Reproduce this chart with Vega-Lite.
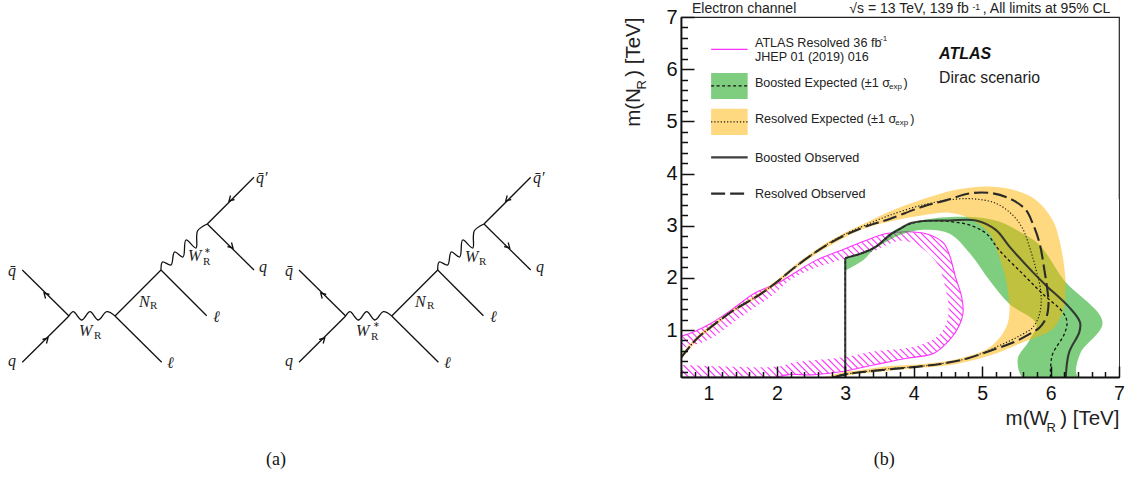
{
"$schema":"https://vega.github.io/schema/vega-lite/v6.json",
"padding":{"left":0,"top":1,"right":0,"bottom":0},
"background":"white",
"spacing":0,
"config":{"view":{"stroke":null},"text":{"font":"Liberation Sans","baseline":"middle","align":"left"}},
"hconcat":[
{"width":622,"height":463,
 "layer":[
 {"data":{"values":[
 {"g":"a1","x":22.3,"y":270},{"g":"a1","x":69,"y":316},
 {"g":"a2","x":22.3,"y":362.3},{"g":"a2","x":69,"y":316},
 {"g":"a3","x":115,"y":316},{"g":"a3","x":161,"y":270},
 {"g":"a4","x":115,"y":316},{"g":"a4","x":161.7,"y":362.3},
 {"g":"a5","x":161,"y":270},{"g":"a5","x":206.7,"y":315.7},
 {"g":"a6","x":207.3,"y":224},{"g":"a6","x":254,"y":177.3},
 {"g":"a7","x":207.3,"y":224},{"g":"a7","x":254,"y":270},
 {"g":"b1","x":299,"y":270},{"g":"b1","x":345.7,"y":316},
 {"g":"b2","x":299,"y":362.3},{"g":"b2","x":345.7,"y":316},
 {"g":"b3","x":391.7,"y":316},{"g":"b3","x":437.7,"y":270},
 {"g":"b4","x":391.7,"y":316},{"g":"b4","x":438.4,"y":362.3},
 {"g":"b5","x":437.7,"y":270},{"g":"b5","x":483.4,"y":315.7},
 {"g":"b6","x":484,"y":224},{"g":"b6","x":530.7,"y":177.3},
 {"g":"b7","x":484,"y":224},{"g":"b7","x":530.7,"y":270},
 {"g":"c1","x":49.5,"y":294.5},{"g":"c1","x":44,"y":293},{"g":"c1","x":45.5,"y":298.5},
 {"g":"c2","x":42.5,"y":339.5},{"g":"c2","x":48,"y":338},{"g":"c2","x":46.5,"y":343.5},
 {"g":"c3","x":234.5,"y":199.5},{"g":"c3","x":229,"y":201},{"g":"c3","x":230.5,"y":195.5},
 {"g":"c4","x":227.5,"y":246.5},{"g":"c4","x":233,"y":248},{"g":"c4","x":231.5,"y":242.5},
 {"g":"d1","x":326.2,"y":294.5},{"g":"d1","x":320.7,"y":293},{"g":"d1","x":322.2,"y":298.5},
 {"g":"d2","x":319.2,"y":339.5},{"g":"d2","x":324.7,"y":338},{"g":"d2","x":323.2,"y":343.5},
 {"g":"d3","x":511.2,"y":199.5},{"g":"d3","x":505.7,"y":201},{"g":"d3","x":507.2,"y":195.5},
 {"g":"d4","x":504.2,"y":246.5},{"g":"d4","x":509.7,"y":248},{"g":"d4","x":508.2,"y":242.5}
 ]},
 "mark":{"type":"line","stroke":"#111","strokeWidth":1.3},
 "encoding":{"x":{"field":"x","type":"quantitative","axis":null,"scale":{"domain":[0,622],"nice":false,"zero":false}},
  "y":{"field":"y","type":"quantitative","axis":null,"scale":{"domain":[480,17],"nice":false,"zero":false}},
  "detail":{"field":"g"},"order":{"value":null}}},
 {"data":{"values":[
 {"g":"w1","x":69,"y":316},{"g":"w1","x":73.3,"y":311.7},{"g":"w1","x":81.7,"y":320},{"g":"w1","x":90,"y":311.7},{"g":"w1","x":98.3,"y":320},{"g":"w1","x":106.7,"y":311.7},{"g":"w1","x":115,"y":316},
 {"g":"w2","x":161,"y":270},{"g":"w2","x":162.5,"y":262},{"g":"w2","x":171,"y":265},{"g":"w2","x":174.5,"y":252},{"g":"w2","x":183,"y":257},{"g":"w2","x":186,"y":240},{"g":"w2","x":196,"y":248},{"g":"w2","x":197.5,"y":231},{"g":"w2","x":207.3,"y":224},
 {"g":"w3","x":345.7,"y":316},{"g":"w3","x":350,"y":311.7},{"g":"w3","x":358.4,"y":320},{"g":"w3","x":366.7,"y":311.7},{"g":"w3","x":375,"y":320},{"g":"w3","x":383.4,"y":311.7},{"g":"w3","x":391.7,"y":316},
 {"g":"w4","x":437.7,"y":270},{"g":"w4","x":439.2,"y":262},{"g":"w4","x":447.7,"y":265},{"g":"w4","x":451.2,"y":252},{"g":"w4","x":459.7,"y":257},{"g":"w4","x":462.7,"y":240},{"g":"w4","x":472.7,"y":248},{"g":"w4","x":474.2,"y":231},{"g":"w4","x":484,"y":224}
 ]},
 "mark":{"type":"line","stroke":"#111","strokeWidth":1.3,"interpolate":"catmull-rom"},
 "encoding":{"x":{"field":"x","type":"quantitative"},"y":{"field":"y","type":"quantitative"},"detail":{"field":"g"},"order":{"value":null}}},
 {"data":{"values":[
 {"t":"q̄","x":8,"y":271},{"t":"q","x":8,"y":361},
 {"t":"W","x":79,"y":331},{"t":"N","x":139,"y":302},{"t":"W","x":188,"y":256},
 {"t":"q̄′","x":256,"y":178},{"t":"q","x":259,"y":267},{"t":"ℓ","x":213,"y":317},{"t":"ℓ","x":167,"y":363},
 {"t":"q̄","x":285,"y":271},{"t":"q","x":285,"y":361},
 {"t":"W","x":356,"y":331},{"t":"N","x":415,"y":302},{"t":"W","x":465,"y":257},
 {"t":"q̄′","x":533,"y":178},{"t":"q","x":536,"y":267},{"t":"ℓ","x":490,"y":317},{"t":"ℓ","x":444,"y":363}
 ]},
 "mark":{"type":"text","font":"Liberation Serif","fontStyle":"italic","fontSize":16,"fill":"#222"},
 "encoding":{"x":{"field":"x","type":"quantitative"},"y":{"field":"y","type":"quantitative"},"text":{"field":"t"}}},
 {"data":{"values":[
 {"t":"R","x":94,"y":335.5},{"t":"R","x":150,"y":305.5},{"t":"R","x":203,"y":262},
 {"t":"R","x":371,"y":336.5},{"t":"R","x":427,"y":305.5},{"t":"R","x":479,"y":261.5}
 ]},
 "mark":{"type":"text","font":"Liberation Serif","fontSize":11,"fill":"#222"},
 "encoding":{"x":{"field":"x","type":"quantitative"},"y":{"field":"y","type":"quantitative"},"text":{"field":"t"}}},
 {"data":{"values":[{"t":"∗","x":204,"y":251},{"t":"∗","x":372.5,"y":325}]},
 "mark":{"type":"text","font":"Liberation Serif","fontSize":8,"fill":"#222"},
 "encoding":{"x":{"field":"x","type":"quantitative"},"y":{"field":"y","type":"quantitative"},"text":{"field":"t"}}},
 {"data":{"values":[{"t":"(a)","x":276,"y":460}]},
 "mark":{"type":"text","font":"Liberation Serif","fontSize":18,"align":"center","fill":"#111"},
 "encoding":{"x":{"field":"x","type":"quantitative"},"y":{"field":"y","type":"quantitative"},"text":{"field":"t"}}}
 ]},
{"width":438,"height":360,
 "view":{"stroke":"#222","strokeWidth":1.2},
 "resolve":{"axis":{"x":"independent","y":"independent"}},
 "layer":[
 {"data":{"values":[
 {"a":-1.6,"b":0.61},{"a":-1.5,"b":0.71},{"a":-1.4,"b":0.81},{"a":-1.3,"b":0.91},{"a":-1.2,"b":1.01},{"a":-1.1,"b":1.11},{"a":-1.0,"b":1.21},{"a":-0.9,"b":1.31},{"a":-0.8,"b":1.41},{"a":-0.7,"b":1.51},{"a":-0.6,"b":1.61},{"a":-0.5,"b":1.71},{"a":-0.4,"b":1.81},{"a":-0.3,"b":1.91},{"a":-0.2,"b":2.01},{"a":-0.1,"b":2.11},{"a":0.0,"b":2.21},{"a":0.1,"b":2.31},{"a":0.2,"b":2.41},{"a":0.3,"b":2.51},{"a":0.4,"b":2.61},{"a":0.5,"b":2.71},{"a":0.6,"b":2.81},{"a":0.7,"b":2.91},{"a":0.8,"b":3.01},{"a":0.9,"b":3.11},{"a":1.0,"b":3.21},{"a":1.1,"b":3.31},{"a":1.2,"b":3.41},{"a":1.3,"b":3.51},{"a":1.4,"b":3.61},{"a":1.5,"b":3.71},{"a":1.6,"b":3.81},{"a":1.7,"b":3.91},{"a":1.8,"b":4.01},{"a":1.9,"b":4.11},{"a":2.0,"b":4.21},{"a":2.1,"b":4.31},{"a":2.2,"b":4.41},{"a":2.3,"b":4.51},{"a":2.4,"b":4.61},{"a":2.5,"b":4.71},{"a":2.6,"b":4.81},{"a":2.7,"b":4.91},{"a":2.8,"b":5.01},{"a":2.9,"b":5.11},{"a":3.0,"b":5.21},{"a":3.1,"b":5.31},{"a":3.2,"b":5.41},{"a":3.3,"b":5.51},{"a":3.4,"b":5.61},{"a":3.5,"b":5.71},{"a":3.6,"b":5.81},{"a":3.7,"b":5.91},{"a":3.8,"b":6.01},{"a":3.9,"b":6.11},{"a":4.0,"b":6.21},{"a":4.1,"b":6.31},{"a":4.2,"b":6.41},{"a":4.3,"b":6.51},{"a":4.4,"b":6.61},{"a":4.5,"b":6.71},{"a":4.6,"b":6.81},{"a":4.7,"b":6.91}
 ]},
 "mark":{"type":"rule","stroke":"#FF33FF","strokeWidth":1.1,"clip":true},
 "encoding":{"x":{"field":"a","type":"quantitative","scale":{"domain":[0.6,7],"nice":false,"zero":false},
   "axis":{"orient":"bottom","zindex":1,"values":[1,2,3,4,5,6,7],"format":"d","grid":false,"tickSize":-11,"tickWidth":1.5,"tickColor":"#111","domainColor":"#111","domainWidth":1.8,"labelFont":"Liberation Sans","labelFontSize":19.5,"labelColor":"#111","labelPadding":18,"labelFlush":false,"title":"m(W\u00a0\u00a0) [TeV]","titleFont":"Liberation Sans","titleFontWeight":"normal","titleFontSize":20.5,"titleColor":"#222","titleAnchor":"end","titleAlign":"right","titleX":438,"titleY":47,"titleBaseline":"alphabetic"}},
  "x2":{"field":"b"},
  "y":{"datum":3,"type":"quantitative","scale":{"domain":[0.1,7],"nice":false,"zero":false},
   "axis":{"orient":"left","zindex":1,"values":[1,2,3,4,5,6,7],"format":"d","grid":false,"tickSize":-13,"tickWidth":1.5,"tickColor":"#111","domainColor":"#111","domainWidth":1.8,"labelFont":"Liberation Sans","labelFontSize":20,"labelColor":"#111","labelPadding":17,"labelFlush":false,"title":"m(N\u00a0\u00a0) [TeV]","titleFont":"Liberation Sans","titleFontWeight":"normal","titleFontSize":20.5,"titleColor":"#222","titleAnchor":"end","titleAlign":"right","titleX":-42,"titleY":0,"titleAngle":270,"titleBaseline":"alphabetic"}},
  "y2":{"datum":0.1}}},
 {"data":{"values":[{"x":0.55,"y":0.88},{"x":0.6,"y":0.88},{"x":0.8,"y":0.97},{"x":1.04,"y":1.13},{"x":1.34,"y":1.39},{"x":1.68,"y":1.71},{"x":2.02,"y":1.9},{"x":2.24,"y":2.08},{"x":2.58,"y":2.34},{"x":3,"y":2.56},{"x":3.31,"y":2.72},{"x":3.6,"y":2.85},{"x":4.0,"y":2.88},{"x":4.24,"y":2.82},{"x":4.44,"y":2.66},{"x":4.53,"y":2.41},{"x":4.61,"y":2.02},{"x":4.7,"y":1.64},{"x":4.72,"y":1.32},{"x":4.63,"y":1.0},{"x":4.48,"y":0.75},{"x":4.29,"y":0.55},{"x":3.9,"y":0.46},{"x":3.41,"y":0.33},{"x":2.925,"y":0.2},{"x":2.5,"y":0.14},{"x":2.2,"y":0.15},{"x":2.0,"y":0.08},{"x":1.5,"y":0.05},{"x":7.5,"y":0.05},{"x":7.5,"y":3.2},{"x":0.55,"y":3.2}]},
 "mark":{"type":"line","fill":"white","stroke":"white","strokeWidth":0,"interpolate":"catmull-rom","clip":true},
 "encoding":{"x":{"field":"x","type":"quantitative","axis":null},"y":{"field":"y","type":"quantitative","axis":null},"order":{"value":null}}},
 {"data":{"values":[{"x":0.5,"y":0.62},{"x":0.6,"y":0.65},{"x":0.8,"y":0.72},{"x":1.04,"y":0.84},{"x":1.38,"y":1.16},{"x":1.63,"y":1.39},{"x":1.92,"y":1.65},{"x":2.19,"y":1.95},{"x":2.48,"y":2.15},{"x":2.82,"y":2.3},{"x":3,"y":2.37},{"x":3.21,"y":2.45},{"x":3.41,"y":2.5},{"x":3.56,"y":2.6},{"x":3.8,"y":2.71},{"x":4.0,"y":2.66},{"x":4.19,"y":2.5},{"x":4.34,"y":2.28},{"x":4.39,"y":2.15},{"x":4.46,"y":1.83},{"x":4.51,"y":1.45},{"x":4.48,"y":1.13},{"x":4.34,"y":0.87},{"x":4.09,"y":0.71},{"x":3.75,"y":0.63},{"x":3.41,"y":0.59},{"x":3.02,"y":0.49},{"x":2.21,"y":0.37},{"x":2.02,"y":0.3},{"x":0.6,"y":0.33},{"x":0.5,"y":0.33}]},
 "mark":{"type":"line","fill":"white","stroke":"white","strokeWidth":0,"interpolate":"catmull-rom","clip":true},
 "encoding":{"x":{"field":"x","type":"quantitative","axis":null},"y":{"field":"y","type":"quantitative","axis":null},"order":{"value":null}}},
 {"data":{"values":[{"g":"c","x":0.6,"y":0.88},{"g":"c","x":0.8,"y":0.97},{"g":"c","x":1.04,"y":1.13},{"g":"c","x":1.34,"y":1.39},{"g":"c","x":1.68,"y":1.71},{"g":"c","x":2.02,"y":1.9},{"g":"c","x":2.24,"y":2.08},{"g":"c","x":2.58,"y":2.34},{"g":"c","x":3,"y":2.56},{"g":"c","x":3.31,"y":2.72},{"g":"c","x":3.6,"y":2.85},{"g":"c","x":4.0,"y":2.88},{"g":"c","x":4.24,"y":2.82},{"g":"c","x":4.44,"y":2.66},{"g":"c","x":4.53,"y":2.41},{"g":"c","x":4.61,"y":2.02},{"g":"c","x":4.7,"y":1.64},{"g":"c","x":4.72,"y":1.32},{"g":"c","x":4.63,"y":1.0},{"g":"c","x":4.48,"y":0.75},{"g":"c","x":4.29,"y":0.55},{"g":"c","x":3.9,"y":0.46},{"g":"c","x":3.41,"y":0.33},{"g":"c","x":2.925,"y":0.2},{"g":"c","x":2.5,"y":0.14},{"g":"c","x":2.2,"y":0.15},{"g":"c","x":2.0,"y":0.1},
 {"g":"l","x":1.04,"y":6.38},{"g":"l","x":1.574,"y":6.38}]},
 "mark":{"type":"line","stroke":"#FF33FF","strokeWidth":1.1,"interpolate":"catmull-rom","clip":true},
 "encoding":{"x":{"field":"x","type":"quantitative","axis":null},"y":{"field":"y","type":"quantitative","axis":null},"detail":{"field":"g"},"order":{"value":null}}},
 {"data":{"values":[{"x":3,"y":2.38},{"x":3.26,"y":2.5},{"x":3.45,"y":2.62},{"x":3.65,"y":2.85},{"x":3.8,"y":2.97},{"x":4.14,"y":3.11},{"x":4.77,"y":3.17},{"x":5.25,"y":3.08},{"x":5.59,"y":2.85},{"x":5.84,"y":2.63},{"x":6.2,"y":1.95},{"x":6.76,"y":1.15},{"x":6.44,"y":0.57},{"x":6.37,"y":0.22},{"x":6.39,"y":0.05},{"x":5.62,"y":0.05},{"x":5.52,"y":0.44},{"x":5.69,"y":0.8},{"x":5.79,"y":1.12},{"x":5.4,"y":1.5},{"x":5.11,"y":1.95},{"x":4.82,"y":2.47},{"x":4.52,"y":2.85},{"x":4.14,"y":2.92},{"x":3.8,"y":2.82},{"x":3.6,"y":2.69},{"x":3.41,"y":2.53},{"x":3.26,"y":2.34},{"x":3,"y":2.14}]},
 "mark":{"type":"line","fill":"#009E00","fillOpacity":0.5,"stroke":"white","strokeWidth":0,"interpolate":"catmull-rom","clip":true},
 "encoding":{"x":{"field":"x","type":"quantitative","axis":null},"y":{"field":"y","type":"quantitative","axis":null},"order":{"value":null}}},
 {"data":{"values":[{"x":0.6,"y":0.52},{"x":0.82,"y":0.86},{"x":1.02,"y":1.08},{"x":1.36,"y":1.4},{"x":1.75,"y":1.72},{"x":2,"y":1.96},{"x":2.24,"y":2.22},{"x":2.53,"y":2.5},{"x":2.73,"y":2.68},{"x":3,"y":2.87},{"x":3.31,"y":3.06},{"x":3.65,"y":3.27},{"x":4.14,"y":3.51},{"x":4.62,"y":3.69},{"x":5.11,"y":3.75},{"x":5.5,"y":3.67},{"x":5.79,"y":3.49},{"x":6.03,"y":3.11},{"x":6.13,"y":2.72},{"x":6.2,"y":2.21},{"x":6.22,"y":1.82},{"x":6.18,"y":1.37},{"x":6.03,"y":1.02},{"x":5.79,"y":0.86},{"x":5.59,"y":0.76},{"x":5.11,"y":0.51},{"x":4.62,"y":0.35},{"x":4.14,"y":0.28},{"x":3.65,"y":0.22},{"x":3.21,"y":0.16},{"x":3,"y":0.12},{"x":2.6,"y":0.08},{"x":2.7,"y":0.1},{"x":3,"y":0.2},{"x":3.21,"y":0.23},{"x":3.65,"y":0.31},{"x":4.14,"y":0.35},{"x":4.62,"y":0.44},{"x":5.11,"y":0.67},{"x":5.35,"y":1.05},{"x":5.4,"y":1.37},{"x":5.35,"y":1.95},{"x":5.25,"y":2.4},{"x":5.11,"y":2.85},{"x":4.82,"y":3.14},{"x":4.52,"y":3.25},{"x":4.14,"y":3.2},{"x":3.65,"y":3.08},{"x":3.31,"y":2.96},{"x":3,"y":2.78},{"x":2.73,"y":2.58},{"x":2.53,"y":2.42},{"x":2.24,"y":2.14},{"x":2,"y":1.88},{"x":1.75,"y":1.65},{"x":1.36,"y":1.34},{"x":1.02,"y":1.0},{"x":0.82,"y":0.78},{"x":0.6,"y":0.42}]},
 "mark":{"type":"line","fill":"#FFB300","fillOpacity":0.5,"stroke":"white","strokeWidth":0,"interpolate":"catmull-rom","clip":true},
 "encoding":{"x":{"field":"x","type":"quantitative","axis":null},"y":{"field":"y","type":"quantitative","axis":null},"order":{"value":null}}},
 {"data":{"values":[{"a":1.04,"b":1.574,"c":5.927,"d":5.43}]},
 "mark":{"type":"rect","fill":"#009E00","fillOpacity":0.5},
 "encoding":{"x":{"field":"a","type":"quantitative","axis":null},"x2":{"field":"b"},"y":{"field":"c","type":"quantitative","axis":null},"y2":{"field":"d"}}},
 {"data":{"values":[{"a":1.04,"b":1.574,"c":5.24,"d":4.74}]},
 "mark":{"type":"rect","fill":"#FFB300","fillOpacity":0.5},
 "encoding":{"x":{"field":"a","type":"quantitative","axis":null},"x2":{"field":"b"},"y":{"field":"c","type":"quantitative","axis":null},"y2":{"field":"d"}}},
 {"data":{"values":[{"g":"c","x":0.6,"y":0.47},{"g":"c","x":0.82,"y":0.82},{"g":"c","x":1.02,"y":1.04},{"g":"c","x":1.36,"y":1.37},{"g":"c","x":1.75,"y":1.68},{"g":"c","x":2,"y":1.92},{"g":"c","x":2.24,"y":2.18},{"g":"c","x":2.53,"y":2.46},{"g":"c","x":2.73,"y":2.64},{"g":"c","x":3,"y":2.84},{"g":"c","x":3.31,"y":3.02},{"g":"c","x":3.65,"y":3.2},{"g":"c","x":4.14,"y":3.4},{"g":"c","x":4.62,"y":3.51},{"g":"c","x":4.91,"y":3.51},{"g":"c","x":5.2,"y":3.43},{"g":"c","x":5.45,"y":3.2},{"g":"c","x":5.59,"y":2.95},{"g":"c","x":5.69,"y":2.6},{"g":"c","x":5.79,"y":2.15},{"g":"c","x":5.86,"y":1.7},{"g":"c","x":5.84,"y":1.31},{"g":"c","x":5.74,"y":1.05},{"g":"c","x":5.59,"y":0.92},{"g":"c","x":5.25,"y":0.7},{"g":"c","x":4.77,"y":0.45},{"g":"c","x":4.14,"y":0.31},{"g":"c","x":3.65,"y":0.26},{"g":"c","x":3.21,"y":0.19},{"g":"c","x":3,"y":0.15},{"g":"c","x":2.73,"y":0.06},
 {"g":"l","x":1.04,"y":4.99},{"g":"l","x":1.574,"y":4.99}]},
 "mark":{"type":"line","stroke":"#111","strokeWidth":1.1,"strokeDash":[1.2,2],"interpolate":"catmull-rom","clip":true},
 "encoding":{"x":{"field":"x","type":"quantitative","axis":null},"y":{"field":"y","type":"quantitative","axis":null},"detail":{"field":"g"},"order":{"value":null}}},
 {"data":{"values":[{"g":"c","x":0.6,"y":0.47},{"g":"c","x":0.82,"y":0.82},{"g":"c","x":1.02,"y":1.04},{"g":"c","x":1.36,"y":1.37},{"g":"c","x":1.75,"y":1.68},{"g":"c","x":2,"y":1.92},{"g":"c","x":2.24,"y":2.18},{"g":"c","x":2.53,"y":2.46},{"g":"c","x":2.73,"y":2.63},{"g":"c","x":3,"y":2.82},{"g":"c","x":3.31,"y":2.99},{"g":"c","x":3.65,"y":3.13},{"g":"c","x":4.14,"y":3.37},{"g":"c","x":4.48,"y":3.49},{"g":"c","x":4.82,"y":3.62},{"g":"c","x":5.16,"y":3.62},{"g":"c","x":5.45,"y":3.49},{"g":"c","x":5.64,"y":3.3},{"g":"c","x":5.74,"y":3.04},{"g":"c","x":5.84,"y":2.66},{"g":"c","x":5.91,"y":2.15},{"g":"c","x":5.96,"y":1.7},{"g":"c","x":5.97,"y":1.5},{"g":"c","x":5.94,"y":1.25},{"g":"c","x":5.84,"y":1.05},{"g":"c","x":5.69,"y":0.92},{"g":"c","x":5.45,"y":0.76},{"g":"c","x":5.11,"y":0.6},{"g":"c","x":4.77,"y":0.45},{"g":"c","x":4.43,"y":0.36},{"g":"c","x":4.14,"y":0.31},{"g":"c","x":3.75,"y":0.26},{"g":"c","x":3.21,"y":0.19},{"g":"c","x":3,"y":0.15},{"g":"c","x":2.73,"y":0.06},
 {"g":"l","x":1.04,"y":3.615},{"g":"l","x":1.574,"y":3.615}]},
 "mark":{"type":"line","stroke":"#2a2a2a","strokeWidth":2.1,"strokeDash":[14,5],"interpolate":"catmull-rom","clip":true},
 "encoding":{"x":{"field":"x","type":"quantitative","axis":null},"y":{"field":"y","type":"quantitative","axis":null},"detail":{"field":"g"},"order":{"value":null}}},
 {"data":{"values":[{"g":"c","x":3,"y":0.05},{"g":"c","x":3,"y":1.2},{"g":"c","x":3,"y":2.38},{"g":"c2","x":3,"y":2.38},{"g":"c2","x":3.26,"y":2.48},{"g":"c2","x":3.45,"y":2.6},{"g":"c2","x":3.65,"y":2.82},{"g":"c2","x":3.8,"y":2.94},{"g":"c2","x":3.94,"y":3.03},{"g":"c2","x":4.14,"y":3.09},{"g":"c2","x":4.52,"y":3.08},{"g":"c2","x":4.82,"y":3.01},{"g":"c2","x":5.06,"y":2.85},{"g":"c2","x":5.25,"y":2.53},{"g":"c2","x":5.59,"y":2.08},{"g":"c2","x":5.88,"y":1.7},{"g":"c2","x":6.18,"y":1.34},{"g":"c2","x":6.24,"y":1.15},{"g":"c2","x":6.2,"y":0.92},{"g":"c2","x":6.03,"y":0.54},{"g":"c2","x":6,"y":0.28},{"g":"c2","x":6,"y":0.05},
 {"g":"l","x":1.04,"y":5.68},{"g":"l","x":1.574,"y":5.68}]},
 "mark":{"type":"line","stroke":"#111","strokeWidth":1.3,"strokeDash":[3,2.5],"interpolate":"catmull-rom","clip":true},
 "encoding":{"x":{"field":"x","type":"quantitative","axis":null},"y":{"field":"y","type":"quantitative","axis":null},"detail":{"field":"g"},"order":{"value":null}}},
 {"data":{"values":[{"g":"c","x":3,"y":0.05},{"g":"c","x":3,"y":1.2},{"g":"c","x":3,"y":2.38},{"g":"c2","x":3,"y":2.38},{"g":"c2","x":3.26,"y":2.48},{"g":"c2","x":3.45,"y":2.6},{"g":"c2","x":3.65,"y":2.82},{"g":"c2","x":3.8,"y":2.94},{"g":"c2","x":3.94,"y":3.04},{"g":"c2","x":4.14,"y":3.09},{"g":"c2","x":4.52,"y":3.1},{"g":"c2","x":4.91,"y":3.1},{"g":"c2","x":5.2,"y":2.92},{"g":"c2","x":5.4,"y":2.6},{"g":"c2","x":5.74,"y":2.11},{"g":"c2","x":5.93,"y":1.86},{"g":"c2","x":6.27,"y":1.44},{"g":"c2","x":6.43,"y":1.15},{"g":"c2","x":6.42,"y":0.96},{"g":"c2","x":6.27,"y":0.57},{"g":"c2","x":6.22,"y":0.05},
 {"g":"l","x":1.04,"y":4.31},{"g":"l","x":1.574,"y":4.31}]},
 "mark":{"type":"line","stroke":"#2a2a2a","strokeWidth":2.1,"opacity":0.9,"interpolate":"catmull-rom","clip":true},
 "encoding":{"x":{"field":"x","type":"quantitative","axis":null},"y":{"field":"y","type":"quantitative","axis":null},"detail":{"field":"g"},"order":{"value":null}}},
 {"data":{"values":[{"t":"ATLAS Resolved 36 fb","x":1.68,"y":6.51},{"t":"JHEP 01 (2019) 016","x":1.68,"y":6.24},{"t":"Boosted Expected (±1 σ","x":1.68,"y":5.73},{"t":"Resolved Expected (±1 σ","x":1.68,"y":5.04},{"t":"Boosted Observed","x":1.68,"y":4.29},{"t":"Resolved Observed","x":1.68,"y":3.61},{"t":")","x":3.85,"y":5.73},{"t":")","x":3.95,"y":5.04}]},
 "mark":{"type":"text","fontSize":12.6,"fill":"#222"},
 "encoding":{"x":{"field":"x","type":"quantitative","axis":null},"y":{"field":"y","type":"quantitative","axis":null},"text":{"field":"t"}}},
 {"data":{"values":[{"t":"-1","x":3.51,"y":6.57},{"t":"exp","x":3.64,"y":5.66},{"t":"exp","x":3.73,"y":4.97}]},
 "mark":{"type":"text","fontSize":8,"fill":"#222"},
 "encoding":{"x":{"field":"x","type":"quantitative","axis":null},"y":{"field":"y","type":"quantitative","axis":null},"text":{"field":"t"}}},
 {"data":{"values":[{"t":"Electron channel","x":0.76,"y":7.145},{"t":"√s = 13 TeV, 139 fb","x":3.06,"y":7.145},{"t":", All limits at 95% CL","x":5.01,"y":7.145}]},
 "mark":{"type":"text","fontSize":14,"fill":"#222"},
 "encoding":{"x":{"field":"x","type":"quantitative","axis":null},"y":{"field":"y","type":"quantitative","axis":null},"text":{"field":"t"}}},
 {"data":{"values":[{"t":"-1","x":4.86,"y":7.19}]},
 "mark":{"type":"text","fontSize":8.5,"fill":"#222"},
 "encoding":{"x":{"field":"x","type":"quantitative","axis":null},"y":{"field":"y","type":"quantitative","axis":null},"text":{"field":"t"}}},
 {"data":{"values":[{"t":"ATLAS","x":4.37,"y":6.29}]},
 "mark":{"type":"text","fontSize":16,"fontWeight":"bold","fontStyle":"italic","fill":"#111"},
 "encoding":{"x":{"field":"x","type":"quantitative","axis":null},"y":{"field":"y","type":"quantitative","axis":null},"text":{"field":"t"}}},
 {"data":{"values":[{"t":"Dirac scenario","x":4.37,"y":5.83}]},
 "mark":{"type":"text","fontSize":15.8,"fill":"#222"},
 "encoding":{"x":{"field":"x","type":"quantitative","axis":null},"y":{"field":"y","type":"quantitative","axis":null},"text":{"field":"t"}}},
 {"data":{"values":[{"t":"R","x":6.01,"y":-0.87}]},
 "mark":{"type":"text","fontSize":13,"align":"center","fill":"#222"},
 "encoding":{"x":{"field":"x","type":"quantitative","axis":null},"y":{"field":"y","type":"quantitative","axis":null},"text":{"field":"t"}}},
 {"data":{"values":[{"t":"R","x":0.03,"y":5.7}]},
 "mark":{"type":"text","fontSize":13,"align":"center","angle":270,"fill":"#222"},
 "encoding":{"x":{"field":"x","type":"quantitative","axis":null},"y":{"field":"y","type":"quantitative","axis":null},"text":{"field":"t"}}},
 {"data":{"values":[{"t":"(b)","x":3.57,"y":-1.49}]},
 "mark":{"type":"text","font":"Liberation Serif","fontSize":18,"align":"center","fill":"#111"},
 "encoding":{"x":{"field":"x","type":"quantitative","axis":null},"y":{"field":"y","type":"quantitative","axis":null},"text":{"field":"t"}}},
 {"data":{"values":[{"x":0.8,"y":1},{"x":1.2,"y":1},{"x":1.4,"y":1},{"x":1.6,"y":1},{"x":1.8,"y":1}]},
 "mark":{"type":"point","opacity":0},
 "encoding":{"x":{"field":"x","type":"quantitative","axis":{"orient":"bottom","zindex":1,"values":[0.6,0.8,1.2,1.4,1.6,1.8,2.2,2.4,2.6,2.8,3.2,3.4,3.6,3.8,4.2,4.4,4.6,4.8,5.2,5.4,5.6,5.8,6.2,6.4,6.6,6.8],"grid":false,"domain":false,"labels":false,"title":null,"tickSize":-5.5,"tickWidth":1.5,"tickColor":"#111"}},
  "y":{"field":"y","type":"quantitative","axis":{"orient":"left","zindex":1,"values":[0.2,0.4,0.6,0.8,1.2,1.4,1.6,1.8,2.2,2.4,2.6,2.8,3.2,3.4,3.6,3.8,4.2,4.4,4.6,4.8,5.2,5.4,5.6,5.8,6.2,6.4,6.6,6.8],"grid":false,"domain":false,"labels":false,"title":null,"tickSize":-6.5,"tickWidth":1.5,"tickColor":"#111"}}}}
 ]}
]
}
